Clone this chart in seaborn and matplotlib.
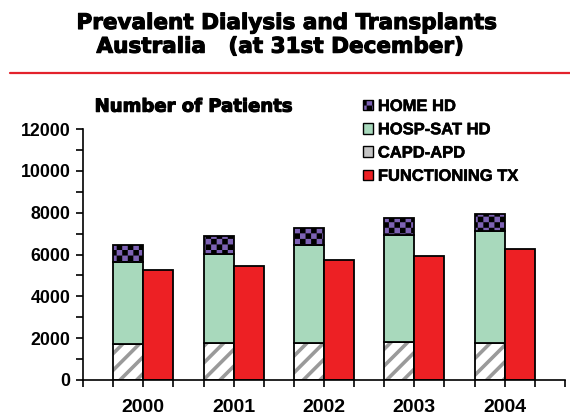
import warnings
import numpy as np
import matplotlib
matplotlib.use('Agg')
import matplotlib.pyplot as plt
import matplotlib.hatch as mhatch
import matplotlib.patheffects as pe
from matplotlib.path import Path
from matplotlib.patches import Patch
from matplotlib.lines import Line2D
from matplotlib.ticker import MultipleLocator
import seaborn as sns

warnings.filterwarnings('ignore')

# data
years = ['2000', '2001', '2002', '2003', '2004']
capd_apd = np.array([1740, 1790, 1790, 1820, 1760])
hosp_sat_hd = np.array([3890, 4240, 4650, 5100, 5380])
home_hd = np.array([810, 860, 850, 820, 820])
functioning_tx = np.array([5280, 5470, 5740, 5950, 6270])
legend_labels = ['HOME HD', 'HOSP-SAT HD', 'CAPD-APD', 'FUNCTIONING TX']

RED = '#ED2024'
GREEN = '#A8D9BC'
PURPLE = '#7D62B4'
STRIPE = '#9A9A9A'
HATCH_LW = 2.6


# checkerboard hatch (excel style "large checker")
class CheckerHatch(mhatch.HatchPatternBase):
    def __init__(self, hatch, density):
        self.n = 18 if 'c' in hatch else 0
        self.num_vertices = 5 * (self.n * self.n // 2)

    def set_vertices_and_codes(self, vertices, codes):
        n = self.n
        s = 1.0 / n
        d = HATCH_LW / 2 / 72  # shrink for the stroke
        k = 0
        for i in range(n):
            for j in range(n):
                if (i + j) % 2 == 0:
                    x0, y0, x1, y1 = i * s + d, j * s + d, (i + 1) * s - d, (j + 1) * s - d
                    vertices[k:k + 5] = [(x0, y0), (x1, y0), (x1, y1), (x0, y1), (x0, y0)]
                    codes[k:k + 5] = [Path.MOVETO, Path.LINETO, Path.LINETO, Path.LINETO, Path.CLOSEPOLY]
                    k += 5


mhatch._hatch_types.append(CheckerHatch)

sns.set_theme(style='ticks')
plt.rcParams['font.family'] = ['Liberation Sans', 'DejaVu Sans']
plt.rcParams['font.weight'] = 'bold'
plt.rcParams['hatch.linewidth'] = HATCH_LW
plt.rcParams['text.color'] = 'black'

fig = plt.figure(figsize=(5.7, 4.18), dpi=100)
ax = fig.add_axes([83 / 570, 38 / 418, 482 / 570, 251 / 418])

x = np.arange(len(years))
w = 1 / 3
stack_x = x - w / 2
tx_x = x + w / 2

# CAPD-APD: hatch then black outline
ax.bar(stack_x, capd_apd, w, color='white', edgecolor=STRIPE, hatch='//', linewidth=0)
ax.bar(stack_x, capd_apd, w, fill=False, edgecolor='black', linewidth=1.3)
ax.bar(stack_x, hosp_sat_hd, w, bottom=capd_apd, color=GREEN, edgecolor='black', linewidth=1.3)
ax.bar(stack_x, home_hd, w, bottom=capd_apd + hosp_sat_hd, color=PURPLE,
       edgecolor='black', hatch='c', linewidth=1.3)

# functioning transplants
sns.barplot(x=tx_x, y=functioning_tx, native_scale=True, orient='x', width=w,
            color=RED, saturation=1, edgecolor='black', linewidth=1.3,
            errorbar=None, ax=ax)

ax.set_xlabel('')
ax.set_ylabel('')
ax.set_xlim(-2 / 3, len(years) - 1 + 2 / 3)
ax.set_ylim(0, 12000)
ax.set_xticks(x)
ax.set_xticklabels(years)
ax.set_xticks(np.arange(-2 / 3, len(years) - 1 + 0.7, 1 / 3), minor=True)
ax.yaxis.set_major_locator(MultipleLocator(2000))
ax.yaxis.set_minor_locator(MultipleLocator(1000))
ax.tick_params(axis='both', which='both', direction='out', length=5, width=1.2,
               color='black', labelcolor='black')
ax.tick_params(axis='x', pad=9, labelsize=14)
ax.tick_params(axis='y', pad=4, labelsize=12.8)
for lab in ax.get_xticklabels() + ax.get_yticklabels():
    lab.set_fontweight('bold')
sns.despine(ax=ax)
for sp in ['left', 'bottom']:
    ax.spines[sp].set_color('black')
    ax.spines[sp].set_linewidth(1.2)
ax.set_facecolor('white')

# titles (stroke to get close to arial black weight)
heavy = [pe.withStroke(linewidth=0.8, foreground='black')]
fig.text(286 / 570, 1 - 29 / 418, 'Prevalent Dialysis and Transplants',
         ha='center', va='baseline', fontsize=15.5, fontweight='heavy',
         family='DejaVu Sans', path_effects=heavy)
fig.text(280 / 570, 1 - 52.7 / 418, 'Australia   (at 31st December)',
         ha='center', va='baseline', fontsize=15.5, fontweight='heavy',
         family='DejaVu Sans', path_effects=heavy)
fig.add_artist(Line2D([10 / 570, 1], [1 - 73 / 418] * 2, color='#E3222C', linewidth=1.6))
fig.text(193 / 570, 1 - 111.7 / 418, 'Number of Patients', ha='center', va='baseline',
         fontsize=13, fontweight='heavy', family='DejaVu Sans', path_effects=heavy)

handles = [
    Patch(facecolor=PURPLE, edgecolor='black', hatch='c', linewidth=1),
    Patch(facecolor=GREEN, edgecolor='black', linewidth=1),
    Patch(facecolor='#C4C4C4', edgecolor='black', linewidth=1),
    Patch(facecolor=RED, edgecolor='black', linewidth=1),
]
leg = fig.legend(handles, legend_labels, loc='upper left',
                 bbox_to_anchor=(363 / 570, 1 - 99 / 418),
                 frameon=False, borderaxespad=0, borderpad=0, handlelength=0.6,
                 handleheight=0.6, handletextpad=0.3, labelspacing=0.5, fontsize=11.9)
for t in leg.get_texts():
    t.set_fontweight('bold')
    t.set_family('Liberation Sans')
    t.set_color('black')
    t.set_path_effects([pe.withStroke(linewidth=0.4, foreground='black')])

fig.savefig('out.png', dpi=100, facecolor='white')
